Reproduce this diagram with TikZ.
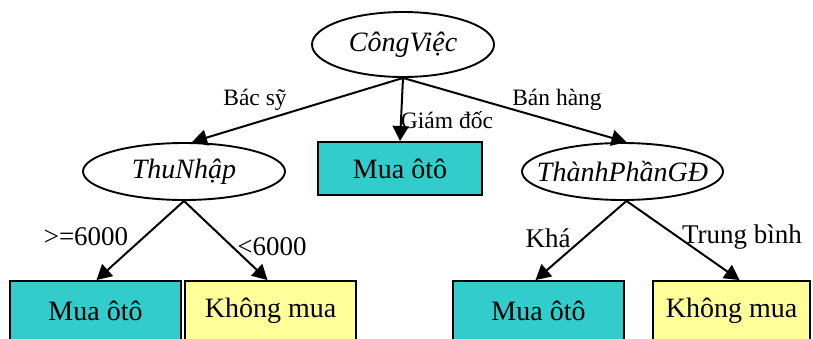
\documentclass[tikz,border=0pt]{standalone}
\usepackage{fontspec}
\setmainfont{Liberation Serif}
\usetikzlibrary{shapes.geometric,arrows.meta,calc}
\definecolor{tealbox}{RGB}{51,204,204}
\definecolor{yellowbox}{RGB}{255,255,153}
\tikzset{
  x=1pt,y=-1pt,
  ell/.style={ellipse,draw,line width=1.9pt,inner ysep=0pt,font=\fontsize{28}{30}\selectfont\itshape},
  leaf/.style={rectangle,draw,line width=1.9pt,inner sep=0pt,font=\fontsize{28}{30}\selectfont},
  buy/.style={leaf,fill=tealbox},
  nobuy/.style={leaf,fill=yellowbox},
  conn/.style={line width=2pt,-{Triangle[length=15pt,width=16pt]}},
  toplbl/.style={inner sep=0pt,font=\fontsize{23.5}{25}\selectfont},
  botlbl/.style={inner sep=0pt,font=\fontsize{27}{29}\selectfont},
}
\begin{document}
\begin{tikzpicture}
\useasboundingbox (0,0) rectangle (813,338);
\clip (0,0) rectangle (813,338);
\node[ell,inner xsep=-8pt,minimum width=182pt,minimum height=65pt] (root) at (403,44.5) {CôngViệc};
\node[ell,inner xsep=-6pt,minimum width=202pt,minimum height=57pt] (thu) at (184,171.5) {ThuNhập};
\node[buy,minimum width=164pt,minimum height=53pt] (mid) at (400,168.5) {Mua ôtô};
\node[ell,inner xsep=-18pt,minimum width=201pt,minimum height=57pt] (tp) at (622.5,171.5) {ThànhPhầnGĐ};
\node[buy,minimum width=171pt,minimum height=60pt] (b1) at (95.5,311) {Mua ôtô};
\node[nobuy,minimum width=171pt,minimum height=60pt] (b2) at (270.5,311) {Không mua};
\node[buy,minimum width=171pt,minimum height=60pt] (b3) at (538.5,311) {Mua ôtô};
\node[nobuy,minimum width=157pt,minimum height=60pt] (b4) at (731.5,311) {Không mua};

\draw[conn] (root.south) -- ($(thu.north)+(8,0)$);
\draw[conn] (root.south) -- (mid.north);
\draw[conn] (root.south) -- ($(tp.north)+(4,0)$);
\draw[conn] (thu.south) -- ($(b1.north)+(1,0)$);
\draw[conn] (thu.south) -- ($(b2.north)+(-3,0)$);
\draw[conn] ($(tp.south)+(4,0)$) -- ($(b3.north)+(-3,0)$);
\draw[conn] ($(tp.south)+(4,0)$) -- ($(b4.north)+(8,0)$);

\node[toplbl] (l1) at (255,100) {Bác sỹ};
\node[toplbl] (l2) at (447,120) {Giám đốc};
\node[toplbl] (l3) at (557,100) {Bán hàng};
\node[botlbl] (l4) at (86,237) {>=6000};
\node[botlbl] (l5) at (272,247) {<6000};
\node[botlbl] (l6) at (548,238) {Khá};
\node[botlbl] (l7) at (742,237) {Trung bình};
\end{tikzpicture}
\end{document}
